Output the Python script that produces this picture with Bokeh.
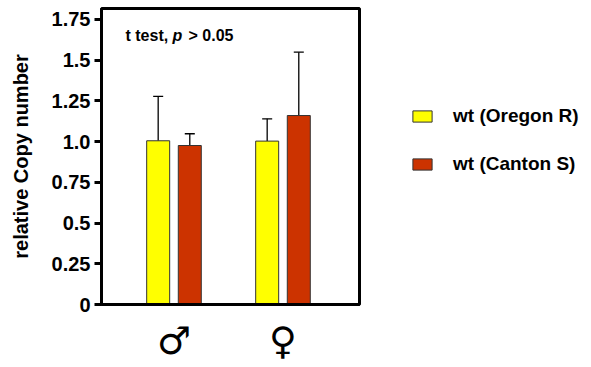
from bokeh.plotting import figure
from bokeh.models import Legend, LegendItem, Label, Range1d, FixedTicker, ColumnDataSource
from bokeh.embed import file_html
from bokeh.resources import INLINE

groups = ["\u2642", "\u2640"]
group_pos = [1, 2]
series = ["wt (Oregon R)", "wt (Canton S)"]
oregon = [1.005, 1.003]
oregon_sd = [0.272, 0.137]
canton = [0.976, 1.160]
canton_sd = [0.072, 0.389]
y_ticks = [0, 0.25, 0.5, 0.75, 1.0, 1.25, 1.5, 1.75]
y_tick_labels = ["0", "0.25", "0.5", "0.75", "1.0", "1.25", "1.5", "1.75"]
colors = ["#FFFF00", "#CC3300"]

FONT = "Liberation Sans"
offset = 0.145
bw = 0.211
cap = 0.046

p = figure(frame_width=258, frame_height=296, output_backend="svg", toolbar_location=None,
           x_range=Range1d(0.335, 2.702), y_range=Range1d(0, 1.817),
           min_border_left=101, min_border_right=10, min_border_top=8, min_border_bottom=52)
p.grid.visible = False
p.outline_line_color = "black"
p.outline_line_width = 3
p.background_fill_color = "white"
p.border_fill_color = "white"

renderers = []
for vals, sds, col, sgn in [(oregon, oregon_sd, colors[0], -1), (canton, canton_sd, colors[1], 1)]:
    xs = [g + sgn * offset for g in group_pos]
    tops = [v + s for v, s in zip(vals, sds)]
    src = ColumnDataSource(dict(x=xs, top=vals, etop=tops,
                                x0=[x - cap for x in xs], x1=[x + cap for x in xs]))
    p.segment(x0="x", y0="top", x1="x", y1="etop", source=src, line_color="black", line_width=1.3)
    p.segment(x0="x0", y0="etop", x1="x1", y1="etop", source=src, line_color="black", line_width=1.3)
    r = p.vbar(x="x", top="top", width=bw, bottom=0, source=src, fill_color=col,
               line_color="#333333", line_width=1)
    renderers.append(r)

# y axis
p.yaxis.ticker = FixedTicker(ticks=y_ticks)
p.yaxis.major_label_overrides = {t: l for t, l in zip(y_ticks, y_tick_labels)}
p.yaxis.axis_line_width = 3
p.yaxis.major_tick_line_width = 3
p.yaxis.major_tick_in = 0
p.yaxis.major_tick_out = 7
p.yaxis.minor_tick_line_color = None
p.yaxis.major_label_text_font = FONT
p.yaxis.major_label_text_font_style = "bold"
p.yaxis.major_label_text_font_size = "20px"
p.yaxis.major_label_text_color = "black"
p.yaxis.major_label_standoff = 4
p.yaxis.axis_label = "relative Copy number"
p.yaxis.axis_label_text_font = FONT
p.yaxis.axis_label_text_font_style = "bold"
p.yaxis.axis_label_text_font_size = "20px"
p.yaxis.axis_label_text_color = "black"
p.yaxis.axis_label_standoff = 17

# x axis
p.xaxis.ticker = FixedTicker(ticks=group_pos)
p.xaxis.major_label_overrides = {g: l for g, l in zip(group_pos, groups)}
p.xaxis.axis_line_width = 3
p.xaxis.major_tick_line_color = None
p.xaxis.minor_tick_line_color = None
p.xaxis.major_label_text_font = "DejaVu Sans"
p.xaxis.major_label_text_font_size = "38px"
p.xaxis.major_label_text_color = "black"
p.xaxis.major_label_standoff = 8

# annotation
for txt, dx, style in [("t test,", 0, "bold"), ("p", 47, "bold italic"), ("> 0.05", 63, "bold")]:
    p.add_layout(Label(x=24 + dx, y=269, x_units="screen", y_units="screen", text=txt,
                       text_font=FONT, text_font_style=style, text_font_size="16px",
                       text_color="black", text_baseline="alphabetic"))

legend = Legend(items=[LegendItem(label=s, renderers=[r]) for s, r in zip(series, renderers)],
                location=(51, 129), orientation="vertical",
                glyph_width=24, glyph_height=14, label_standoff=19, spacing=26,
                label_text_font=FONT, label_text_font_style="bold", label_text_font_size="19px",
                label_text_color="black",
                border_line_color=None, background_fill_alpha=0, padding=0, margin=0)
p.add_layout(legend, "right")

open("out.html", "w").write(file_html(p, INLINE))
